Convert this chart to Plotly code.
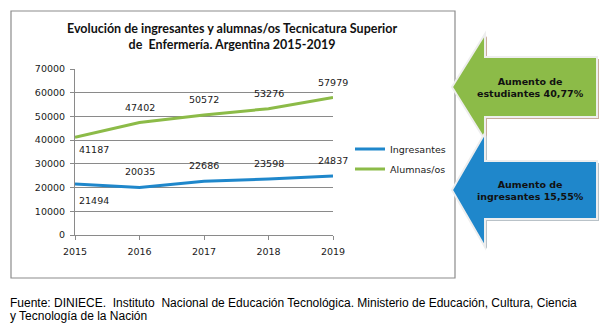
import plotly.graph_objects as go

years = [2015, 2016, 2017, 2018, 2019]
ingresantes = [21494, 20035, 22686, 23598, 24837]
alumnas = [41187, 47402, 50572, 53276, 57979]
series_names = ["Ingresantes", "Alumnas/os"]
title_lines = ["Evolución de ingresantes y alumnas/os Tecnicatura Superior",
               "de  Enfermería. Argentina 2015-2019"]
arrow_texts = ["Aumento de<br>estudiantes 40,77%", "Aumento de<br>ingresantes 15,55%"]
footer_lines = ["Fuente: DINIECE.  Instituto  Nacional de Educación Tecnológica. Ministerio de Educación, Cultura, Ciencia",
                "y Tecnología de la Nación"]

BLUE = "#1F87CB"
GREEN = "#8CBB48"
GRID = "#8A8A8A"
TXT = "#1a1a1a"
TICKFONT = dict(family="DejaVu Sans", size=9.5, color=TXT)

W, H = 608, 333
L, R, T, B = 75, 333, 69, 235  # plot area pixel edges


def px(x):
    return (x - L) / (R - L)


def py(y):
    return (B - y) / (B - T)


fig = go.Figure()
fig.add_trace(go.Scatter(x=years, y=ingresantes, name=series_names[0], mode="lines",
                         line=dict(color=BLUE, width=3), legendgroup="a"))
fig.add_trace(go.Scatter(x=years, y=alumnas, name=series_names[1], mode="lines",
                         line=dict(color=GREEN, width=3), legendgroup="b"))

annotations = []
# data labels
for vals, below_shift in ((ingresantes, -16), (alumnas, -12)):
    for i, (yr, v) in enumerate(zip(years, vals)):
        if i == 0:
            annotations.append(dict(x=yr, y=v, text=str(v), showarrow=False, xshift=19,
                                    yshift=below_shift, font=TICKFONT))
        else:
            annotations.append(dict(x=yr, y=v, text=str(v), showarrow=False,
                                    yshift=15.5, font=TICKFONT))

# title
annotations.append(dict(xref="paper", yref="paper", x=px(232), y=py(36.5), xanchor="center",
                        yanchor="middle", showarrow=False, align="center",
                        text="<br>".join(title_lines),
                        font=dict(family="Lato", size=12.5, color="#111", weight="bold")))

# footer
for ln, yy in zip(footer_lines, (303, 316)):
    annotations.append(dict(xref="paper", yref="paper", x=px(8), y=py(yy), xanchor="left",
                            yanchor="middle", showarrow=False, text=ln,
                            font=dict(family="Liberation Sans", size=12, color="#000")))

shapes = []
# chart border
shapes.append(dict(type="rect", xref="paper", yref="paper", x0=px(11), x1=px(455),
                   y0=py(278), y1=py(11), line=dict(color="#8C8C8C", width=1.2),
                   fillcolor="rgba(0,0,0,0)", layer="below"))


def arrow_path(tip_x, tip_y, head_x, head_half, body_half, right_x, dx=0, dy=0):
    pts = [(tip_x, tip_y), (head_x, tip_y - head_half), (head_x, tip_y - body_half),
           (right_x, tip_y - body_half), (right_x, tip_y + body_half),
           (head_x, tip_y + body_half), (head_x, tip_y + head_half)]
    return "M " + " L ".join(f"{px(x + dx):.5f},{py(y + dy):.5f}" for x, y in pts) + " Z"


arrows = [(87, 53, 30, GREEN, "#c9ab9b"), (190, 57, 29, BLUE, "#b9c2c8")]
for (tip_y, hh, bh, col, shadow), txt in zip(arrows, arrow_texts):
    shapes.append(dict(type="path", xref="paper", yref="paper",
                       path=arrow_path(452, tip_y, 485, hh, bh, 597, 2, 2),
                       fillcolor=shadow, line=dict(width=0)))
    shapes.append(dict(type="path", xref="paper", yref="paper",
                       path=arrow_path(452, tip_y, 485, hh, bh, 597),
                       fillcolor=col, line=dict(color="#eeeeee", width=2)))
    annotations.append(dict(xref="paper", yref="paper", x=px(530), y=py(tip_y), xanchor="center",
                            yanchor="middle", showarrow=False, align="center", text=txt,
                            font=dict(family="DejaVu Sans", size=9.5, color="#111", weight="bold")))

fig.update_layout(
    width=W, height=H,
    margin=dict(l=L, r=W - R, t=T, b=H - B, pad=0),
    paper_bgcolor="white", plot_bgcolor="white",
    showlegend=True,
    legend=dict(x=px(350), y=py(159), xanchor="left", yanchor="middle",
                font=dict(family="DejaVu Sans", size=9.5, color=TXT),
                bgcolor="rgba(0,0,0,0)", tracegroupgap=1, traceorder="grouped",
                itemwidth=30),
    annotations=annotations,
    shapes=shapes,
    xaxis=dict(range=[2015, 2019], tickvals=years, ticktext=[str(y) for y in years],
               showgrid=False, zeroline=False, showline=True, linecolor=GRID, linewidth=1,
               ticks="outside", ticklen=4, tickcolor=GRID, tickfont=TICKFONT,
               ticklabelstandoff=4),
    yaxis=dict(range=[0, 70000], dtick=10000, tickformat="d", showgrid=True, gridcolor=GRID,
               gridwidth=1, zeroline=False, showline=True, linecolor=GRID, linewidth=1,
               ticks="outside", ticklen=4, tickcolor=GRID, tickfont=TICKFONT,
               ticklabelstandoff=3),
)

fig.write_html("out.html")
